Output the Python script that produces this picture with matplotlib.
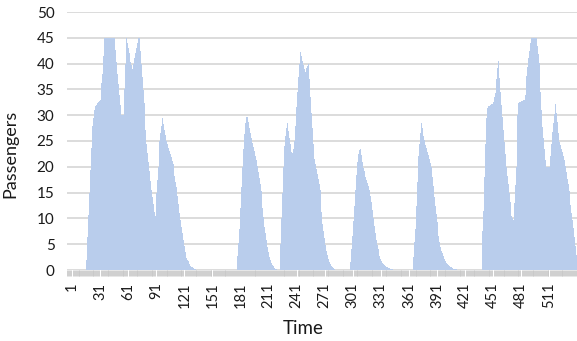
import numpy as np
import matplotlib
matplotlib.use("Agg")
import matplotlib.pyplot as plt

plt.rcParams['font.family'] = ['Lato', 'DejaVu Sans']

# ---- data (passengers per time step) ----
n_steps = 540

group1_start = 15
group1 = [0, 1, 2, 6.3, 10.7, 15, 19.3, 23.7, 28, 29.4, 31, 31.8, 32, 32.3, 32.5, 32.8, 33, 34.7, 36.3, 38,
          41.5, 45, 45, 45, 45, 45, 45, 45, 45, 45, 45, 45, 45, 42.7, 40.3, 38, 36, 34, 32, 30,
          30, 30, 35, 40, 45, 44, 43, 42, 41, 40.3, 39.7, 39, 40, 41, 42, 43, 44, 45, 45, 42.5,
          40, 37.4, 34.8, 32.3, 29.7, 27.1, 24.5, 22.7, 20.9, 19.1, 17.3, 15.5, 14.1, 12.7, 11.2, 10.5, 15, 17.5, 20, 22.5,
          25, 26.5, 28, 29.4, 28.3, 27.2, 26.1, 25, 24.4, 23.7, 23.1, 22.5, 21.9, 21.2, 20.6, 19.4, 18.3, 17.1, 16, 14.3,
          12.7, 11, 9.7, 8.4, 7.1, 5.8, 4.6, 3.5, 2.3, 2, 1.7, 1.4, 1.1, 0.8, 0.6, 0.5, 0.4, 0.2, 0.1, 0]

group2_start = 177
group2 = [0, 2.7, 5.3, 8, 12, 16, 20, 23.5, 26.3, 28.4, 29.6, 30.6, 29.6, 28.6, 27.5, 26.5, 25.5, 24.7, 23.8, 23,
          22.1, 21.3, 20.1, 18.9, 17.8, 16.6, 15.4, 13.9, 12.1, 10.2, 8.4, 7.1, 5.8, 4.5, 3.4, 2.6, 1.9, 1.3, 1, 0.7,
          0.4, 0.2, 0.1, 0.1, 0]

group3_start = 223
group3 = [0, 5, 10, 15, 20, 24, 26, 27.5, 28.5, 27, 25.5, 24.5, 23.7, 22.9, 22.6, 23.5, 25, 28, 31.5, 34.5,
          37.5, 40, 42.3, 41.5, 40.6, 39.8, 39, 38.4, 38.8, 39.2, 39.6, 40, 37, 33.5, 30.5, 27.5, 24.5, 21.5, 20.5, 19.5,
          18.6, 17.7, 16.7, 15.5, 13.4, 11.2, 8.9, 7.5, 6.2, 4.9, 3.7, 2.9, 2.2, 1.5, 1.1, 0.8, 0.5, 0.3, 0.1]

group4_start = 298
group4 = [0, 1.5, 4, 6.5, 9.5, 12.5, 15.5, 18.5, 21, 22.5, 23.3, 23.5, 22.3, 21, 19.8, 19.2, 18.6, 18.1, 17.5, 16.8,
          16.2, 15.5, 14.4, 13.2, 11.6, 10, 8.6, 7.2, 5.9, 4.9, 4.1, 3.3, 2.7, 2.1, 1.7, 1.4, 1.2, 1, 0.8, 0.6,
          0.5, 0.4, 0.3, 0.2, 0.1, 0.1]

group5_start = 365
group5 = [0, 2.5, 5.5, 8, 12.5, 17, 22, 24.5, 26.5, 28.4, 27.5, 26.7, 25.9, 25.1, 24.3, 23.6, 22.9, 22.2, 21.5, 20.7,
          20, 18.1, 16.2, 14.2, 12.5, 10.9, 9.3, 7.7, 6.6, 5.5, 4.4, 3.7, 3.2, 2.7, 2.2, 1.7, 1.3, 1.1, 0.9, 0.8,
          0.6, 0.5, 0.4, 0.3, 0.2, 0.2, 0.1, 0.1, 0]

group6_start = 438
group6 = [0, 3.5, 7.5, 11.5, 18, 24.5, 29.5, 31.4, 31.7, 31.8, 31.9, 32.1, 32.2, 32.6, 33.5, 34.3, 35.2, 37, 39.1, 40.6,
          37.3, 34.5, 32, 29.6, 27.2, 24.8, 22.4, 20, 18.3, 16.6, 14.9, 13.1, 11.4, 10.5, 10, 9.7, 13, 16.5, 20, 30,
          32.4, 32.5, 32.6, 32.7, 32.8, 32.9, 33, 34, 35.8, 37.6, 39.4, 41, 42.5, 44, 45, 45, 45, 45, 45, 45,
          43.4, 41.8, 40.2, 37.7, 34.4, 31, 27.7, 25.5, 23.4, 21.3, 20, 20, 20, 20, 22, 24.5, 26.8, 28.5, 30.3, 32,
          32.2, 30.5, 28.6, 26.5, 24.9, 24.2, 23.5, 22.8, 22.1, 21.3, 20.1, 18.9, 17.7, 16.6, 15.4, 14.1, 12.6, 11.1, 9.7, 8.2,
          6.4, 4.6, 3]

tick_labels = [1, 31, 61, 91, 121, 151, 181, 211, 241, 271, 301, 331, 361, 391, 421, 451, 481, 511]
y_ticks = [0, 5, 10, 15, 20, 25, 30, 35, 40, 45, 50]

# ---- assemble series ----
time = np.arange(1, n_steps + 1)
passengers = np.zeros(n_steps)
for start, grp in [(group1_start, group1), (group2_start, group2), (group3_start, group3),
                   (group4_start, group4), (group5_start, group5), (group6_start, group6)]:
    passengers[start - 1:start - 1 + len(grp)] = grp

# ---- figure ----
W, H = 577, 341
fig = plt.figure(figsize=(W / 100, H / 100), dpi=100)
ax = fig.add_axes([67 / W, 71 / H, (W - 67) / W, 258 / H])

ax.bar(time, passengers, width=1.0, color='#b9cdec', edgecolor='none', linewidth=0, zorder=2)

ax.set_ylim(0, 50)
ax.set_xlim(-4.3, 540.5)
ax.set_yticks(y_ticks)
ax.set_xticks(tick_labels)
ax.set_xticklabels([str(t) for t in tick_labels], rotation=90, fontsize=10.5, color='#1a1a1a')
ax.set_yticklabels([str(t) for t in y_ticks], fontsize=11, color='#1a1a1a')
ax.tick_params(axis='y', length=0, pad=9)
ax.tick_params(axis='x', which='major', length=0, pad=9)
ax.set_xticks(np.arange(-4, n_steps + 1), minor=True)
ax.tick_params(axis='x', which='minor', length=4, width=0.6, color='#c8c8c8', direction='out')

ax.yaxis.grid(True, color='#d9d9d9', linewidth=1.3, zorder=0)
ax.set_axisbelow(True)
for s in ax.spines.values():
    s.set_visible(False)

ax.set_ylabel('Passengers', fontsize=13, color='#1a1a1a')
ax.yaxis.set_label_coords(-0.096, 0.45)
ax.set_xlabel('Time', fontsize=13.5, color='#1a1a1a')
ax.xaxis.label.set_va('center')
ax.xaxis.set_label_coords(0.463, -0.225)

fig.savefig('out.png', dpi=100)
